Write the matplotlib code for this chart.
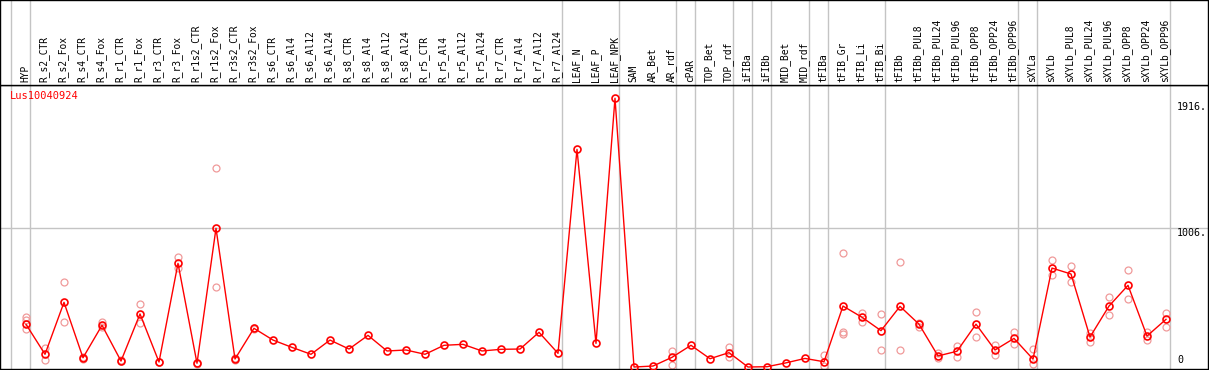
import matplotlib
matplotlib.use("Agg")
import matplotlib.pyplot as plt
import matplotlib.transforms as mtransforms
import numpy as np

categories = ["HYP", "R_s2_CTR", "R_s2_Fox", "R_s4_CTR", "R_s4_Fox", "R_r1_CTR", "R_r1_Fox",
              "R_r3_CTR", "R_r3_Fox", "R_r1s2_CTR", "R_r1s2_Fox", "R_r3s2_CTR", "R_r3s2_Fox",
              "R_s6_CTR", "R_s6_Al4", "R_s6_Al12", "R_s6_Al24", "R_s8_CTR", "R_s8_Al4",
              "R_s8_Al12", "R_s8_Al24", "R_r5_CTR", "R_r5_Al4", "R_r5_Al12", "R_r5_Al24",
              "R_r7_CTR", "R_r7_Al4", "R_r7_Al12", "R_r7_Al24", "LEAF_N", "LEAF_P", "LEAF_NPK",
              "SAM", "AR_Bet", "AR_rdf", "cPAR", "TOP_Bet", "TOP_rdf", "iFIBa", "iFIBb",
              "MID_Bet", "MID_rdf", "tFIBa", "tFIB_Gr", "tFIB_Li", "tFIB_Bi", "tFIBb",
              "tFIBb_PUL8", "tFIBb_PUL24", "tFIBb_PUL96", "tFIBb_OPP8", "tFIBb_OPP24",
              "tFIBb_OPP96", "sXYLa", "sXYLb", "sXYLb_PUL8", "sXYLb_PUL24", "sXYLb_PUL96",
              "sXYLb_OPP8", "sXYLb_OPP24", "sXYLb_OPP96"]

mean_values = [309, 92, 468, 67, 302, 43, 384, 36, 750, 27, 1004, 58, 280,
               195, 142, 92, 195, 130, 229, 116, 123, 92, 157, 164, 116, 128, 130, 251, 99,
               1575, 171, 1945,
               0, 7, 70, 157, 60, 104, 0, 2, 30, 62, 38, 441, 360, 263, 439,
               310, 80, 114, 310, 123, 207, 57, 716, 673, 217, 441, 591, 224, 345]

replicates = [[364, 340, 273], [135, 51], [613, 323], [75, 58], [326, 287], [48, 44],
              [456, 316], [38, 34], [794, 714], [29, 25], [1438, 577], [63, 53], [285, 275],
              [], [], [], [], [], [], [], [], [], [], [], [], [], [], [], [],
              [], [], [],
              [], [], [118, 17], [], [], [147, 75], [], [], [], [], [87, 10],
              [825, 251, 237], [393, 328], [384, 123], [760, 123],
              [315, 292], [99, 63], [152, 75], [400, 215], [159, 87], [255, 166],
              [128, 22], [772, 663], [731, 613], [248, 183], [504, 374], [700, 490],
              [251, 195], [389, 292]]

group_sizes = [1, 28, 3, 3, 1, 2, 1, 1, 2, 1, 3, 7, 1, 7]
gene_name = "Lus10040924"
ytick_values = [1916, 1006, 0]
ytick_labels = ["1916.", "1006.", "0"]

W, H = 1209, 370
fig = plt.figure(figsize=(W / 100, H / 100), dpi=100)
fig.patch.set_facecolor("white")

mono = "DejaVu Sans Mono"
fs = 6.9

top_px, bot_px, right_px = 85, 369, 1208
ax = fig.add_axes([0, 1 - bot_px / H, right_px / W, (bot_px - top_px) / H])
hax = fig.add_axes([0, 1 - top_px / H, right_px / W, top_px / H], sharex=ax)

x0_px, dx_px = 26, 19
xlim = (-x0_px / dx_px, (right_px - x0_px) / dx_px)
ax.set_xlim(*xlim)

upp = 1006 / (367 - 228)
ax.set_ylim((367 - bot_px) * upp, (367 - top_px) * upp)
hax.set_ylim(0, 1)

for a in (ax, hax):
    a.set_xticks([])
    a.set_yticks([])
    for s in a.spines.values():
        s.set_color("black")
        s.set_linewidth(1.0)
hax.tick_params(labelbottom=False)

grid_col = "#c4c4c4"
off = 4 / dx_px
bounds = np.concatenate([[0], np.cumsum(group_sizes)])
for b in bounds:
    xb = b - 1 + off
    ax.axvline(xb, color=grid_col, lw=1.0, zorder=0)
    hax.axvline(xb, color=grid_col, lw=1.0, zorder=0)
ax.axhline(ytick_values[1], color=grid_col, lw=1.0, zorder=0)

# category labels
for i, c in enumerate(categories):
    hax.text(i - 0.05, 3 / top_px, c, rotation=90, ha="center", va="bottom",
             fontsize=fs, family=mono, color="black")

# replicate points
rx, ry = [], []
for i, reps in enumerate(replicates):
    for v in reps:
        rx.append(i)
        ry.append(v)
ax.plot(rx, ry, linestyle="none", marker="o", markersize=5.0, markerfacecolor="none",
        markeredgecolor="#f09a9a", markeredgewidth=0.9, zorder=2)

x = np.arange(len(categories))
ax.plot(x, mean_values, color="#ff0000", lw=1.0, zorder=3)
ax.plot(x, mean_values, linestyle="none", marker="o", markersize=5.0,
        markerfacecolor="none", markeredgecolor="#ff0000", markeredgewidth=1.2, zorder=4)

ax.text(10 / right_px, 1 - 6 / (bot_px - top_px), gene_name, transform=ax.transAxes,
        ha="left", va="top", fontsize=fs + 0.6, family=mono, color="#ff0000")

trans = mtransforms.blended_transform_factory(ax.transAxes, ax.transData)
for v, lab in zip(ytick_values, ytick_labels):
    va = "bottom" if v == 0 else "top"
    yy = v + 2 * upp if v == 0 else v
    ax.text(1177 / right_px, yy, lab, transform=trans, ha="left", va=va,
            fontsize=fs + 0.3, family=mono, color="black")

fig.savefig("out.png", dpi=100, facecolor="white")
